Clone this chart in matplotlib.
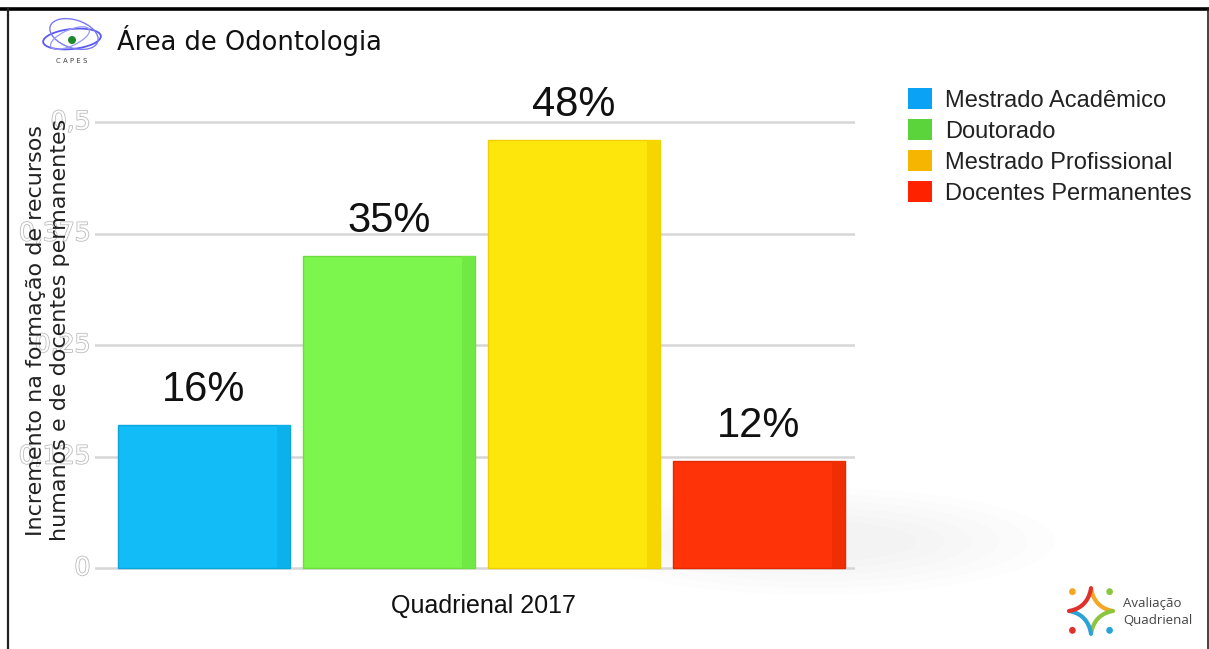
import matplotlib
matplotlib.use("Agg")
import matplotlib.pyplot as plt
import matplotlib.patheffects as pe
from matplotlib.patches import Patch, Ellipse, Rectangle
from matplotlib.lines import Line2D
import numpy as np

# ---- data ----
categories = ["Mestrado Acadêmico", "Doutorado", "Mestrado Profissional", "Docentes Permanentes"]
values = [0.16, 0.35, 0.48, 0.12]
value_labels = ["16%", "35%", "48%", "12%"]
yticks = [0, 0.125, 0.25, 0.375, 0.5]
ytick_labels = ["0", "0,125", "0,25", "0,375", "0,5"]
bar_colors = ["#12bdf7", "#7cf54c", "#fde60c", "#ff3208"]
legend_colors = ["#0aa2f5", "#5ad43a", "#f5b500", "#ff2200"]
xlabel = "Quadrienal 2017"
ylabel = "Incremento na formação de recursos\nhumanos e de docentes permanentes"
title = "Área de Odontologia"

W, H = 1209, 649
fig = plt.figure(figsize=(W / 100, H / 100), dpi=100)
fig.patch.set_facecolor("white")

def fx(px):
    return px / W

def fy(py):
    return 1 - py / H

# axes placement: y=0 at px 568, y=0.5 at px 122
ylo, yhi = -0.03, 0.53
ppu = (568 - 122) / 0.5
bot_px = 568 - ylo * ppu
top_px = 122 - (yhi - 0.5) * ppu
ax_left, ax_right = 95, 855
ax = fig.add_axes([fx(ax_left), fy(bot_px), fx(ax_right - ax_left), (bot_px - top_px) / H])
ax.set_facecolor("none")

spacing = 185.0
x0 = 109.0
ax.set_xlim(-x0 / spacing, (ax_right - ax_left - x0) / spacing)
ax.set_ylim(ylo, yhi)

# soft shadow behind/right of bars
for i in range(6):
    e = Ellipse((3.3, 0.03), 2.6 - i * 0.3, 0.12 - i * 0.015,
                facecolor="#8a8a8a", alpha=0.014, edgecolor="none", zorder=0)
    e.set_clip_on(False)
    ax.add_patch(e)

for t in yticks:
    ax.axhline(t, color="#d6d6d6", lw=1.8, zorder=1)

xs = list(range(len(values)))
ax.bar(xs, values, width=0.93, color=bar_colors, zorder=3,
       edgecolor=["#0aa6dc", "#6cdc3e", "#efcf00", "#e02a00"], linewidth=1.0)
# slightly darker right-side strip for a bit of 3D look
for x, v, c in zip(xs, values, ["#0cb0ea", "#72e845", "#f6d600", "#f02e04"]):
    ax.add_patch(Rectangle((x + 0.465 - 0.07, 0), 0.07, v, facecolor=c, edgecolor="none", zorder=4))

for x, v, lab in zip(xs, values, value_labels):
    ax.annotate(lab, (x, v), xytext=(0, 11), textcoords="offset points",
                ha="center", va="bottom", fontsize=30, family="Liberation Sans",
                color="#111111", zorder=6)

ax.set_yticks(yticks)
ax.set_yticklabels([])
ax.set_xticks([])
for s in ax.spines.values():
    s.set_visible(False)
ax.tick_params(length=0)

# ghost tick labels (white with gray outline)
for t, lab in zip(yticks, ytick_labels):
    ax.text(-x0 / spacing - 0.025, t, lab, ha="right", va="center", fontsize=18,
            family="DejaVu Sans", color="white", transform=ax.transData, zorder=5,
            path_effects=[pe.withStroke(linewidth=1.2, foreground="#bcbcbc")])

fig.text(fx(483), fy(606), xlabel, ha="center", va="center",
         fontsize=18, family="Liberation Sans", color="#111111")

fig.text(fx(48), fy(330), ylabel, rotation=90, ha="center", va="center",
         fontsize=16, family="DejaVu Sans", color="#222222", linespacing=1.25,
         zorder=2)

# legend
handles = [Patch(facecolor=c, edgecolor="none") for c in legend_colors]
fig.legend(handles, categories, loc="upper left", bbox_to_anchor=(fx(887), fy(67)),
           frameon=False, prop={"family": "Liberation Sans", "size": 17},
           handlelength=1.0, handleheight=1.0, handletextpad=0.55,
           labelspacing=0.31, labelcolor="#222222")

# title
fig.text(fx(117), fy(40), title, ha="left", va="center", fontsize=18.5,
         family="DejaVu Sans", color="#111111")

# CAPES logo
logo_ax = fig.add_axes([fx(36), fy(66), fx(70), 52 / H])
logo_ax.set_xlim(0, 70)
logo_ax.set_ylim(0, 52)
logo_ax.axis("off")
logo_ax.add_patch(Ellipse((36, 27), 58, 20, angle=6, fill=False, edgecolor="#5a5af0", lw=1.3))
logo_ax.add_patch(Ellipse((38, 32), 50, 28, angle=-18, fill=False, edgecolor="#7a7af5", lw=1.0))
logo_ax.add_patch(Ellipse((34, 28), 42, 16, angle=24, fill=False, edgecolor="#9a9af8", lw=0.9))
logo_ax.add_patch(Ellipse((36, 26), 8, 8, facecolor="#1e8a2a", edgecolor="none"))
logo_ax.text(36, 5, "C A P E S", ha="center", va="center", fontsize=5, color="#444444")

# Avaliação Quadrienal logo
q_ax = fig.add_axes([fx(1066), fy(637), fx(50), 52 / H])
q_ax.set_xlim(-1.2, 1.2)
q_ax.set_ylim(-1.2, 1.2)
q_ax.axis("off")
t = np.linspace(0, 1, 30)
arm_cols = ["#f5a623", "#8cc63f", "#29a3d8", "#e0312b"]
dots = [(-0.85, 0.85), (0.85, 0.85), (0.85, -0.85), (-0.85, -0.85)]
for k, (c, (dx, dy)) in enumerate(zip(arm_cols, dots)):
    ang = np.pi / 2 + k * (-np.pi / 2)
    p0 = np.array([np.cos(ang), np.sin(ang)])
    p1 = np.array([np.cos(ang - np.pi / 2), np.sin(ang - np.pi / 2)])
    ctrl = 0.15 * (p0 + p1)
    curve = ((1 - t) ** 2)[:, None] * p0 + (2 * (1 - t) * t)[:, None] * ctrl + (t ** 2)[:, None] * p1
    q_ax.plot(curve[:, 0] * 1.05, curve[:, 1] * 1.05, color=c, lw=3, solid_capstyle="round")
    q_ax.add_patch(Ellipse((dx * 1.05, dy * 1.05), 0.32, 0.32, facecolor=c, edgecolor="none"))
fig.text(fx(1123), fy(603), "Avaliação", ha="left", va="center", fontsize=9.5,
         family="Open Sans", color="#444444")
fig.text(fx(1123), fy(620), "Quadrienal", ha="left", va="center", fontsize=9.5,
         family="Open Sans", color="#444444")

# slide border
fig.add_artist(Line2D([0, 1], [fy(8.5), fy(8.5)], transform=fig.transFigure, color="black", lw=2.6))
fig.add_artist(Line2D([fx(7.5), fx(7.5)], [fy(8.5), 0], transform=fig.transFigure, color="#222222", lw=1.6))
fig.add_artist(Line2D([fx(1207.5), fx(1207.5)], [fy(8.5), 0], transform=fig.transFigure, color="#222222", lw=1.2))

fig.savefig("out.png", dpi=100, facecolor="white")
